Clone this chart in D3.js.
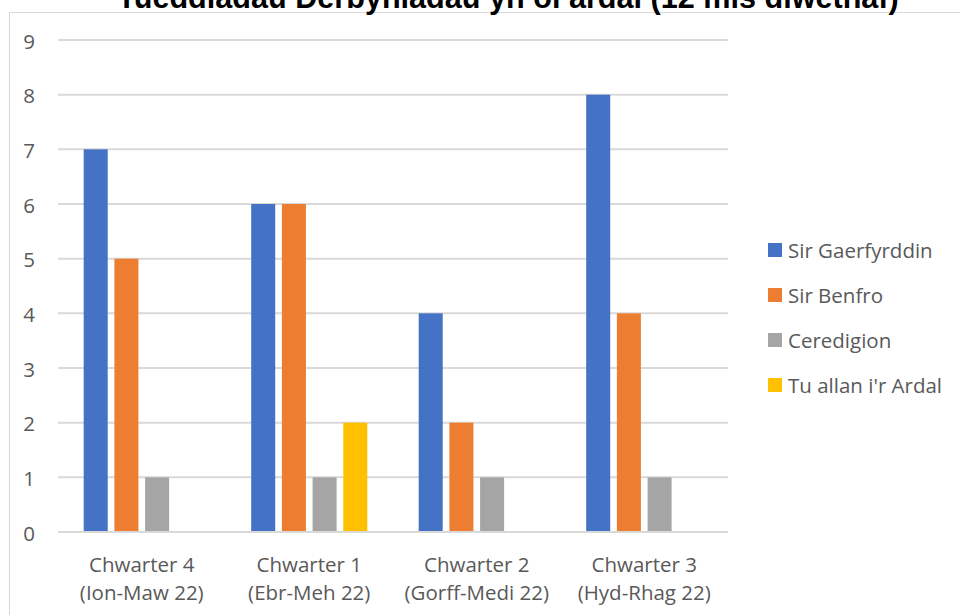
<!DOCTYPE html>
<html><head><meta charset="utf-8">
<script src="https://cdn.jsdelivr.net/npm/d3@7"></script>
<style>body{margin:0;background:#fff;} svg{display:block;}</style>
</head><body>
<script>
const title = "Tueddiadau Derbyniadau yn ôl ardal (12 mis diwethaf)";
const categories = [["Chwarter 4","(Ion-Maw 22)"],["Chwarter 1","(Ebr-Meh 22)"],["Chwarter 2","(Gorff-Medi 22)"],["Chwarter 3","(Hyd-Rhag 22)"]];
const seriesNames = ["Sir Gaerfyrddin","Sir Benfro","Ceredigion","Tu allan i'r Ardal"];
const seriesColors = ["#4472C4","#ED7D31","#A5A5A5","#FFC000"];
const sirGaerfyrddin = [7,6,4,8];
const sirBenfro = [5,6,2,4];
const ceredigion = [1,1,1,1];
const tuAllan = [0,2,0,0];
const yTicks = [0,1,2,3,4,5,6,7,8,9];
const series = [sirGaerfyrddin, sirBenfro, ceredigion, tuAllan];

(function(){
const W=960,H=615;
const svg=d3.select("body").append("svg").attr("width",W).attr("height",H);
const font="'Open Sans', 'Noto Sans', sans-serif";
const fs=20.5;

svg.append("rect").attr("x",9.5).attr("y",12.5).attr("width",1000).attr("height",700)
  .attr("fill","#fff").attr("stroke","#d9d9d9").attr("stroke-width",1);

svg.append("text").attr("x",508).attr("y",8).attr("text-anchor","middle")
  .attr("font-family","'Liberation Sans', Arial, sans-serif").attr("font-weight","bold")
  .attr("font-size",30.6).attr("fill","#000").text(title);

const pL=58,pR=728,pT=40,pB=532;
const y=d3.scaleLinear().domain([0,9]).range([pB,pT]);
const x0=d3.scaleBand().domain(d3.range(categories.length)).range([pL,pR]).padding(0);
const x1=d3.scaleBand().domain(d3.range(seriesNames.length)).range([0,x0.bandwidth()])
  .paddingInner(0.218).paddingOuter(0.837);

const grid=svg.append("g");
yTicks.forEach(t=>{
  grid.append("line").attr("x1",pL).attr("x2",pR).attr("y1",y(t)).attr("y2",y(t))
    .attr("stroke","#d9d9d9").attr("stroke-width",2);
});
const yAxis=d3.axisLeft(y).tickValues(yTicks).tickSize(0).tickPadding(0);
const ya=svg.append("g").attr("transform","translate(35,0)").call(yAxis);
ya.select(".domain").remove();
ya.selectAll("text").attr("font-family",font).attr("font-size",fs).attr("fill","#595959")
  .attr("text-anchor","end").attr("dy","0.4em");

const gBars=svg.append("g");
series.forEach((vals,si)=>{
  vals.forEach((v,ci)=>{
    if(v<=0) return;
    gBars.append("rect").attr("x",x0(ci)+x1(si)).attr("width",x1.bandwidth())
      .attr("y",y(v)).attr("height",y(0)-y(v)).attr("fill",seriesColors[si]);
  });
});
svg.append("line").attr("x1",pL).attr("x2",pR).attr("y1",y(0)).attr("y2",y(0))
  .attr("stroke","#d9d9d9").attr("stroke-width",2);

const xl=svg.append("g");
categories.forEach((c,ci)=>{
  const cx=x0(ci)+x0.bandwidth()/2;
  xl.append("text").attr("x",cx).attr("y",572).attr("text-anchor","middle")
    .attr("font-family",font).attr("font-size",fs).attr("fill","#595959").text(c[0]);
  xl.append("text").attr("x",cx).attr("y",600).attr("text-anchor","middle")
    .attr("font-family",font).attr("font-size",fs).attr("fill","#595959").text(c[1]);
});

const leg=svg.append("g");
const legY=d3.scalePoint().domain(d3.range(seriesNames.length)).range([250,385]);
seriesNames.forEach((n,i)=>{
  leg.append("rect").attr("x",768).attr("y",legY(i)-7).attr("width",14).attr("height",14).attr("fill",seriesColors[i]);
  leg.append("text").attr("x",788).attr("y",legY(i)).attr("dy","0.37em")
    .attr("font-family",font).attr("font-size",fs).attr("fill","#595959").text(n);
});
})();
</script>
</body></html>
